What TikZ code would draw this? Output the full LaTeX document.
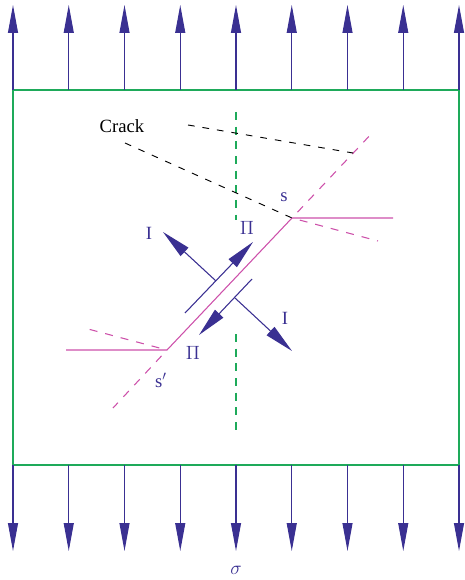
\documentclass[tikz,border=0pt]{standalone}
\usepackage{fontspec}
\setmainfont{Liberation Serif}
\usepackage{tikz}
\usetikzlibrary{arrows.meta, positioning, calc}

\definecolor{loadblue}{RGB}{58,48,146}
\definecolor{plategreen}{RGB}{30,170,90}
\definecolor{slipmag}{RGB}{205,80,170}

\tikzset{
	labeltext/.style={font=\fontsize{14}{16}\selectfont, text=loadblue, inner sep=1pt}
}

\begin{document}
\begin{tikzpicture}[x=0.75pt, y=-0.75pt]

              \tikzset{
                loadarrow/.style={
                    draw=loadblue,
                    line width=0.8pt,
                    -{Triangle[length=21pt, width=7.5pt]}
                  },
                slipline/.style={draw=slipmag, line width=0.8pt},
                slipdash/.style={draw=slipmag, line width=0.8pt, dash pattern=on 6pt off 6pt},
                crackdash/.style={draw=black, line width=0.7pt, dash pattern=on 5pt off 6pt},
                axisdash/.style={draw=plategreen, line width=0.8pt, dash pattern=on 6pt off 5pt},
                shear/.style={
                    draw=loadblue,
                    line width=0.8pt,
                    -{Triangle[length=22pt, width=8.5pt]}
                  }
              }
              \useasboundingbox (0,0) rectangle (464,580);

              % plate
              \draw[plategreen, line width=1.2pt] (13,90) rectangle (459,465);

              % tension on both edges
              \foreach \i in {0,...,8} {
                  \coordinate (top\i) at ({13+55.75*\i},90);
                  \coordinate (tip\i) at ({13+55.75*\i},5);
                  \coordinate (bot\i) at ({13+55.75*\i},465);
                  \coordinate (end\i) at ({13+55.75*\i},551);
                  \draw[loadarrow] (top\i) -- (tip\i);
                  \draw[loadarrow] (bot\i) -- (end\i);
                }
              \node[labeltext] (sigma) at (236,570) {$\sigma$};

              % symmetry axis
              \coordinate (ax1) at (236,112);
              \coordinate (ax2) at (236,220);
              \coordinate (ax3) at (236,334);
              \coordinate (ax4) at (236,432);
              \draw[axisdash] (ax1) -- (ax2);
              \draw[axisdash] (ax3) -- (ax4);

              % slip band ends
              \coordinate (s) at (292,218);
              \coordinate (sp) at (167,350);
              \coordinate (sR) at (393,218);
              \coordinate (spL) at (66,350);
              \coordinate (sUp) at (374,131);
              \coordinate (sDn) at (378,241);
              \coordinate (spUp) at (88,329);
              \coordinate (spDn) at (113,408);

              \draw[slipline] (spL) -- (sp) -- (s) -- (sR);
              \draw[slipdash, dash phase=6pt] (s) -- (sUp);
              \draw[slipdash, dash phase=6pt] (s) -- (sDn);
              \draw[slipdash, dash phase=6pt] (sp) -- (spUp);
              \draw[slipdash, dash phase=6pt] (sp) -- (spDn);

              % crack
              \node[font=\fontsize{14}{16}\selectfont, inner sep=1pt] (crack) at (122,126) {Crack};
              \coordinate (c1) at (188,125);
              \coordinate (c2) at (353,153);
              \coordinate (c3) at (125,143);
              \draw[crackdash] (c1) -- (c2);
              \draw[crackdash] (c3) -- (s);

              % shear and normal pairs
              \coordinate (pa) at (185,313);
              \coordinate (pb) at (253,242);
              \coordinate (qa) at (252,279);
              \coordinate (qb) at (199,335);
              \coordinate (ia) at (216,281);
              \coordinate (ib) at (163,232);
              \coordinate (ja) at (235,298);
              \coordinate (jb) at (292,351);
              \draw[shear] (pa) -- (pb);
              \draw[shear] (qa) -- (qb);
              \draw[shear] (ia) -- (ib);
              \draw[shear] (ja) -- (jb);

              \node[labeltext] (sL) at (284,197) {s};
              \node[labeltext] (spLab) at (161,380) {s$'$};
              \node[labeltext] (piUp) at (247,228) {$\Pi$};
              \node[labeltext] (piDn) at (193,353) {$\Pi$};
              \node[labeltext] (iUp) at (149,233) {I};
              \node[labeltext] (iDn) at (285,318) {I};

            \end{tikzpicture}
\end{document}
